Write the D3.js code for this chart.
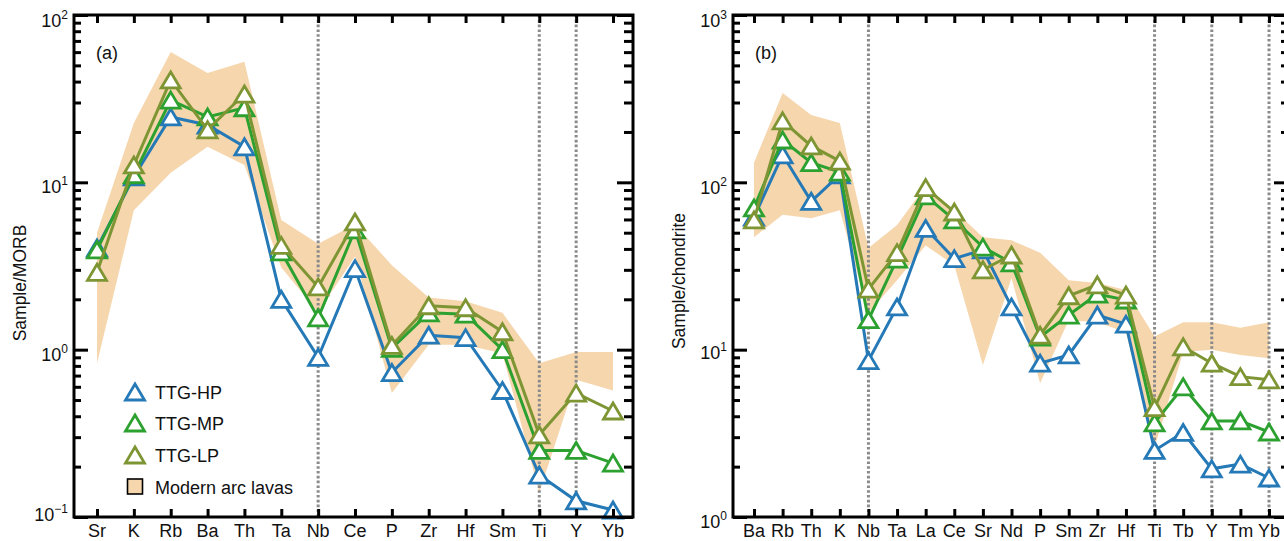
<!DOCTYPE html>
<html><head><meta charset="utf-8">
<script src="https://cdn.jsdelivr.net/npm/d3@7"></script>
<style>html,body{margin:0;padding:0;background:#fff;overflow:hidden}</style>
</head><body><svg id="c" width="1284" height="541"></svg>
<script>
// ---------- Panel (a): MORB-normalised ----------
const catsA = ["Sr","K","Rb","Ba","Th","Ta","Nb","Ce","P","Zr","Hf","Sm","Ti","Y","Yb"];
const hpA = [4.05, 10.8, 24.6, 22.0, 16.3, 2.0, 0.90, 3.05, 0.73, 1.22, 1.18, 0.57, 0.178, 0.125, 0.11];
const mpA = [3.95, 11.1, 31.0, 24.6, 27.9, 3.84, 1.55, 5.2, 1.02, 1.66, 1.63, 1.0, 0.25, 0.25, 0.21];
const lpA = [2.9, 12.7, 40.9, 20.6, 33.7, 4.2, 2.37, 5.8, 1.06, 1.83, 1.78, 1.28, 0.31, 0.55, 0.43];
const arcUpperA = [5.0, 22.6, 60, 45, 52.5, 5.96, 4.3, 5.6, 3.2, 2.05, 1.95, 1.66, 0.83, 0.97, 0.97];
const arcLowerA = [0.83, 6.8, 11.4, 16.3, 12.7, 3.1, 1.68, 3.6, 0.55, 1.07, 1.07, 0.95, 0.14, 0.66, 0.57];
const dottedA = ["Nb","Ti","Y"];
const yDomainA = [0.1, 100];

// ---------- Panel (b): chondrite-normalised ----------
const catsB = ["Ba","Rb","Th","K","Nb","Ta","La","Ce","Sr","Nd","P","Sm","Zr","Hf","Ti","Tb","Y","Tm","Yb"];
const hpB = [62, 146, 77, 111, 8.6, 18.0, 53, 35, 39.5, 18.0, 8.3, 9.3, 16.1, 14.2, 2.5, 3.2, 1.94, 2.07, 1.71];
const mpB = [70.3, 179, 131, 115, 15.1, 34.8, 83, 59.6, 41, 33, 11.9, 16.1, 21.5, 19.8, 3.65, 6.0, 3.75, 3.75, 3.22];
const lpB = [59.6, 233, 165, 134, 23, 38, 93, 66.5, 30, 36.8, 12.2, 21, 24.4, 21.2, 4.5, 10.4, 8.3, 6.9, 6.6];
const arcUpperB = [131, 342, 253, 226, 40.5, 55.6, 95, 68, 47, 45, 38, 26, 25, 22.7, 12, 14.6, 14.6, 13.5, 14.6];
const arcLowerB = [47, 64, 61, 68, 16.6, 26, 42, 32, 8.1, 26.8, 6.3, 15, 14.6, 12.7, 2.6, 9.7, 10, 9.3, 8.9];
const dottedB = ["Nb","Ti","Y","Yb"];
const yDomainB = [1, 1000];

const seriesNames = ["TTG-HP","TTG-MP","TTG-LP"];
const seriesColors = ["#2479b6","#2ca130","#7e9534"];
const bandName = "Modern arc lavas";
const bandColor = "#f6d6ad";

const FONT = "Arial, 'Liberation Sans', Helvetica, sans-serif";
const svg = d3.select("#c");

function triPath(w, h) {
  return `M0,${-h/2}L${w/2},${h/2}L${-w/2},${h/2}Z`;
}
const TRI = triPath(19, 16);

function drawPanel(cfg) {
  const {x0, x1, y0, y1} = cfg;
  const g = svg.append("g");
  const x = d3.scalePoint().domain(cfg.cats).range([x0 + cfg.padL, x1 - cfg.padR]);
  const y = d3.scaleLog().domain(cfg.yDomain).range([y1, y0]);

  // band
  const band = cfg.cats.map((c, i) => ({c, lo: cfg.lower[i], hi: cfg.upper[i]}));
  g.append("path")
    .attr("d", d3.area().x(d => x(d.c)).y0(d => y(d.lo)).y1(d => y(d.hi))(band))
    .attr("fill", bandColor).attr("stroke", "none");

  // dotted reference lines
  cfg.dotted.forEach(c => {
    g.append("line").attr("x1", x(c)).attr("x2", x(c))
      .attr("y1", y0).attr("y2", y1)
      .attr("stroke", "#8a8a8a").attr("stroke-width", 3)
      .attr("stroke-dasharray", "2.6,2.2");
  });

  // series
  cfg.series.forEach((vals, si) => {
    const pts = cfg.cats.map((c, i) => ({c, v: vals[i]}));
    g.append("path")
      .attr("d", d3.line().x(d => x(d.c)).y(d => y(d.v))(pts))
      .attr("fill", "none").attr("stroke", seriesColors[si])
      .attr("stroke-width", 3).attr("stroke-linejoin", "miter");
    g.selectAll(null).data(pts).enter().append("path")
      .attr("d", TRI)
      .attr("transform", d => `translate(${x(d.c)},${y(d.v)})`)
      .attr("fill", "#fff").attr("stroke", seriesColors[si])
      .attr("stroke-width", 2.8).attr("stroke-linejoin", "miter");
  });

  // ticks
  const lo = Math.log10(cfg.yDomain[0]), hi = Math.log10(cfg.yDomain[1]);
  const majors = d3.range(lo, hi + 1).map(e => Math.pow(10, e));
  const minors = [];
  for (let e = lo; e < hi; e++) for (let k = 2; k <= 9; k++) minors.push(k * Math.pow(10, e));

  const styleAxis = sel => {
    sel.select(".domain").remove();
    sel.selectAll("text").remove();
    sel.selectAll("line").attr("stroke", "#000").attr("stroke-width", 3);
  };
  g.append("g").attr("transform", `translate(0,${y1})`)
    .call(d3.axisBottom(x).tickSize(-8)).call(styleAxis);
  g.append("g").attr("transform", `translate(0,${y0})`)
    .call(d3.axisTop(x).tickSize(-8)).call(styleAxis);
  g.append("g").attr("transform", `translate(${x0},0)`)
    .call(d3.axisLeft(y).tickValues(minors).tickSize(-7)).call(styleAxis);
  g.append("g").attr("transform", `translate(${x0},0)`)
    .call(d3.axisLeft(y).tickValues(majors).tickSize(-14)).call(styleAxis);
  g.append("g").attr("transform", `translate(${x1},0)`)
    .call(d3.axisRight(y).tickValues(minors).tickSize(-9)).call(styleAxis);
  g.append("g").attr("transform", `translate(${x1},0)`)
    .call(d3.axisRight(y).tickValues(majors).tickSize(-16)).call(styleAxis);

  // frame
  g.append("rect").attr("x", x0).attr("y", y0)
    .attr("width", x1 - x0).attr("height", y1 - y0)
    .attr("fill", "none").attr("stroke", "#000").attr("stroke-width", 3);

  // y tick labels
  majors.forEach((v, i) => {
    const e = Math.round(Math.log10(v));
    const t = g.append("text").attr("x", x0 - 6).attr("y", y(v) + cfg.labelDy[i])
      .attr("text-anchor", "end").attr("font-family", FONT).attr("font-size", 18).attr("fill", "#111");
    t.append("tspan").text("10");
    t.append("tspan").attr("dy", -8).attr("font-size", 12).text(e < 0 ? "\u2212" + (-e) : String(e));
  });

  // category labels
  cfg.cats.forEach(c => {
    g.append("text").attr("x", x(c)).attr("y", 537)
      .attr("text-anchor", "middle").attr("font-family", FONT).attr("font-size", 18)
      .attr("fill", "#111").text(c);
  });

  // y label
  g.append("text").attr("transform", `translate(${cfg.ylabelX},${cfg.ylabelY}) rotate(-90)`)
    .attr("text-anchor", "middle").attr("font-family", FONT).attr("font-size", 17.5)
    .attr("fill", "#111").text(cfg.ylabel);

  // panel tag
  g.append("text").attr("x", x0 + 22).attr("y", 59)
    .attr("font-family", FONT).attr("font-size", 18).attr("fill", "#111").text(cfg.tag);

  return {g, x, y};
}

drawPanel({
  cats: catsA, series: [hpA, mpA, lpA], upper: arcUpperA, lower: arcLowerA,
  dotted: dottedA, yDomain: yDomainA,
  x0: 74, x1: 633, y0: 15, y1: 517, padL: 23, padR: 20,
  labelDy: [4, 11, 11, 12], ylabel: "Sample/MORB", ylabelX: 26, ylabelY: 283, tag: "(a)"
});
drawPanel({
  cats: catsB, series: [hpB, mpB, lpB], upper: arcUpperB, lower: arcLowerB,
  dotted: dottedB, yDomain: yDomainB,
  x0: 733, x1: 1290, y0: 15, y1: 517, padL: 21, padR: 21,
  labelDy: [11, 9, 12, 12], ylabel: "Sample/chondrite", ylabelX: 685, ylabelY: 281, tag: "(b)"
});

// legend in panel (a)
const leg = svg.append("g");
const legY = [392, 423, 455];
seriesNames.forEach((n, i) => {
  leg.append("path").attr("d", TRI).attr("transform", `translate(135,${legY[i]})`)
    .attr("fill", "#fff").attr("stroke", seriesColors[i]).attr("stroke-width", 2.8);
  leg.append("text").attr("x", 155).attr("y", legY[i] + 6.5)
    .attr("font-family", FONT).attr("font-size", 18).attr("fill", "#111").text(n);
});
leg.append("rect").attr("x", 127.5).attr("y", 479).attr("width", 15).attr("height", 15)
  .attr("fill", bandColor).attr("stroke", "#000").attr("stroke-width", 1.6);
leg.append("text").attr("x", 155).attr("y", 493.5)
  .attr("font-family", FONT).attr("font-size", 18).attr("fill", "#111").text(bandName);
</script>
</body></html>
